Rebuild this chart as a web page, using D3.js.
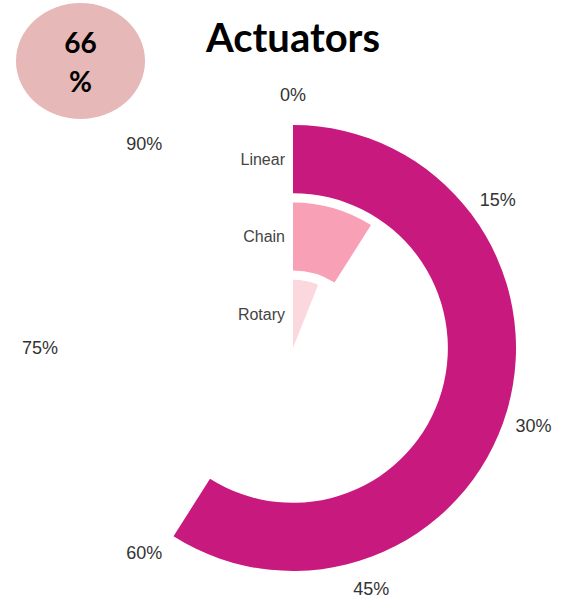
<!DOCTYPE html>
<html>
<head>
<meta charset="utf-8">
<script src="https://cdn.jsdelivr.net/npm/d3@7"></script>
<style>
  html, body { margin: 0; padding: 0; background: #fff; }
  svg { display: block; }
</style>
</head>
<body>
<svg id="chart" width="562" height="604"></svg>
<script>
// Radial bar chart of actuator types (share of 100%)
const categories = ["Linear", "Chain", "Rotary"];
const values = [59, 9, 6];
const barColors = ["#c8197f", "#f8a1b6", "#fbd8dd"];
const tickValues = [0, 15, 30, 45, 60, 75, 90];
const tickLabels = ["0%", "15%", "30%", "45%", "60%", "75%", "90%"];
const titleText = "Actuators";
const badgeLines = ["66", "%"];

const svg = d3.select("#chart");
const cx = 293, cy = 348;
const outerR = 223;
const labelR = 253;

const angle = d3.scaleLinear().domain([0, 100]).range([0, 2 * Math.PI]);
// innermost band is the last category
const radius = d3.scaleBand()
  .domain(categories.slice().reverse())
  .range([0, outerR])
  .paddingInner(0.12);

const g = svg.append("g").attr("transform", `translate(${cx},${cy})`);

const arc = d3.arc()
  .innerRadius(d => radius(d.cat))
  .outerRadius(d => radius(d.cat) + radius.bandwidth())
  .startAngle(0)
  .endAngle(d => angle(d.value));

const data = categories.map((c, i) => ({ cat: c, value: values[i], color: barColors[i] }));

g.selectAll("path.bar")
  .data(data)
  .join("path")
  .attr("class", "bar")
  .attr("d", arc)
  .attr("fill", d => d.color);

// category labels, right-aligned just left of the bars
g.selectAll("text.cat")
  .data(data)
  .join("text")
  .attr("class", "cat")
  .attr("x", -8)
  .attr("y", d => -(radius(d.cat) + radius.bandwidth() / 2))
  .attr("dy", "0.35em")
  .attr("text-anchor", "end")
  .attr("font-family", "'Liberation Sans', Arial, sans-serif")
  .attr("font-size", 16)
  .attr("fill", "#444")
  .text(d => d.cat);

// angular tick labels
g.selectAll("text.tick")
  .data(tickValues)
  .join("text")
  .attr("class", "tick")
  .attr("x", d => labelR * Math.sin(angle(d)))
  .attr("y", d => -labelR * Math.cos(angle(d)))
  .attr("dy", "0.35em")
  .attr("text-anchor", "middle")
  .attr("font-family", "'Liberation Sans', Arial, sans-serif")
  .attr("font-size", 18)
  .attr("fill", "#333")
  .text((d, i) => tickLabels[i]);

// title
svg.append("text")
  .attr("x", 293)
  .attr("y", 52)
  .attr("text-anchor", "middle")
  .attr("font-family", "Lato, 'Open Sans', sans-serif")
  .attr("font-weight", "bold")
  .attr("font-size", 40)
  .attr("fill", "#000")
  .text(titleText);

// percentage badge
const badge = svg.append("g").attr("transform", "translate(80.5,61)");
badge.append("ellipse")
  .attr("rx", 64.5)
  .attr("ry", 58)
  .attr("fill", "#e6b8b7");
badge.selectAll("text")
  .data(badgeLines)
  .join("text")
  .attr("x", 0)
  .attr("y", (d, i) => -8 + i * 39)
  .attr("text-anchor", "middle")
  .attr("font-family", "Lato, 'Open Sans', sans-serif")
  .attr("font-weight", "bold")
  .attr("font-size", 28)
  .attr("fill", "#000")
  .text(d => d);
</script>
</body>
</html>
